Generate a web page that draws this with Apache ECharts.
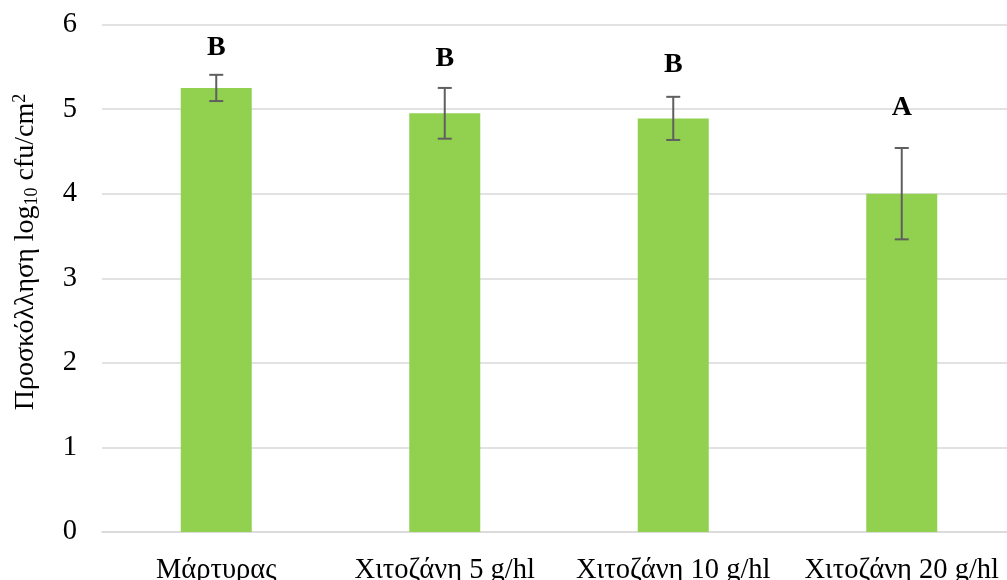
<!DOCTYPE html>
<html>
<head>
<meta charset="utf-8">
<script src="https://cdn.jsdelivr.net/npm/echarts@6/dist/echarts.min.js"></script>
<style>html,body{margin:0;padding:0;background:#fff;}#c{width:1007px;height:580px;}</style>
</head>
<body>
<div id="c"></div>
<script>
var categories = ['Μάρτυρας', 'Χιτοζάνη 5 g/hl', 'Χιτοζάνη 10 g/hl', 'Χιτοζάνη 20 g/hl'];
var values = [5.25, 4.95, 4.89, 4.00];
var errors = [0.155, 0.30, 0.255, 0.54];
var letters = ['B', 'B', 'B', 'A'];
var letterLevels = [5.72, 5.60, 5.52, 5.01];
var yTicks = [0, 1, 2, 3, 4, 5, 6];

var serif = '"Liberation Serif", "Times New Roman", serif';
var chart = echarts.init(document.getElementById('c'), null, {renderer: 'canvas'});

var errData = values.map(function (v, i) { return [i, v - errors[i], v + errors[i]]; });
var letterData = letters.map(function (t, i) { return [i, letterLevels[i], t]; });

chart.setOption({
  animation: false,
  backgroundColor: '#ffffff',
  grid: {left: 102, width: 914, top: 24.5, bottom: 48, containLabel: false, outerBoundsMode: 'none'},
  xAxis: {
    type: 'category',
    data: categories,
    axisLine: {show: true, lineStyle: {color: '#d9d9d9', width: 1.5}},
    axisTick: {show: false},
    axisLabel: {color: '#000', fontFamily: serif, fontSize: 28.5, margin: 24, interval: 0, hideOverlap: false}
  },
  yAxis: {
    type: 'value',
    min: yTicks[0], max: yTicks[yTicks.length - 1], interval: 1,
    axisLine: {show: false},
    axisTick: {show: false},
    splitLine: {lineStyle: {color: '#d9d9d9', width: 1.5}},
    axisLabel: {color: '#000', fontFamily: serif, fontSize: 28.5, margin: 25}
  },
  graphic: [{
    type: 'text',
    x: 26, y: 252,
    rotation: Math.PI / 2,
    style: {
      text: '{n|Προσκόλληση log}{s|10}{n| cfu/cm}{p|2}',
      align: 'center',
      verticalAlign: 'middle',
      fill: '#000',
      rich: {
        n: {fontFamily: serif, fontSize: 28, lineHeight: 30, fill: '#000'},
        s: {fontFamily: serif, fontSize: 18, lineHeight: 30, verticalAlign: 'bottom', padding: [10, 0, 0, 0], fill: '#000'},
        p: {fontFamily: serif, fontSize: 18, lineHeight: 30, verticalAlign: 'top', padding: [0, 0, 10, 0], fill: '#000'}
      }
    }
  }],
  series: [{
    type: 'bar',
    data: values,
    barWidth: 71,
    itemStyle: {color: '#92D050'},
    z: 2
  }, {
    type: 'custom',
    data: errData,
    z: 5,
    renderItem: function (params, api) {
      var x = api.value(0);
      var lo = api.coord([x, api.value(1)]);
      var hi = api.coord([x, api.value(2)]);
      var cw = 7;
      var st = {stroke: '#5f5f5f', lineWidth: 2};
      return {type: 'group', children: [
        {type: 'line', shape: {x1: hi[0], y1: hi[1], x2: lo[0], y2: lo[1]}, style: st},
        {type: 'line', shape: {x1: hi[0] - cw, y1: hi[1], x2: hi[0] + cw, y2: hi[1]}, style: st},
        {type: 'line', shape: {x1: lo[0] - cw, y1: lo[1], x2: lo[0] + cw, y2: lo[1]}, style: st}
      ]};
    }
  }, {
    type: 'custom',
    data: letterData,
    z: 6,
    renderItem: function (params, api) {
      var p = api.coord([api.value(0), api.value(1)]);
      return {type: 'text', x: p[0], y: p[1], style: {
        text: letters[params.dataIndex], align: 'center', verticalAlign: 'middle',
        font: 'bold 28px ' + serif, fill: '#000'
      }};
    }
  }]
});
</script>
</body>
</html>
